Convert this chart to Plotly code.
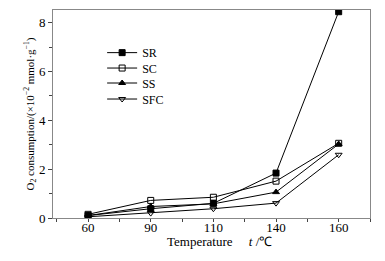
import plotly.graph_objects as go

temps = ["60", "90", "110", "140", "160"]
SR = [0.10, 0.38, 0.60, 1.84, 8.45]
SC = [0.15, 0.72, 0.85, 1.51, 3.06]
SS = [0.10, 0.47, 0.58, 1.06, 3.03]
SFC = [0.05, 0.20, 0.38, 0.61, 2.59]

series = [
    ("SR", SR, "square", "black"),
    ("SC", SC, "square-open", "black"),
    ("SS", SS, "triangle-up", "black"),
    ("SFC", SFC, "triangle-down-open", "black"),
]

font = "Liberation Serif, Times New Roman, serif"
xs = list(range(len(temps)))
fig = go.Figure()
legend_ys = [0.795, 0.721, 0.649, 0.572]
layout_legends = {}
for i, (name, vals, sym, col) in enumerate(series):
    lg = "legend" if i == 0 else f"legend{i+1}"
    fig.add_trace(go.Scatter(
        x=xs, y=vals, name=name, mode="lines+markers",
        line=dict(color="black", width=1),
        marker=dict(symbol=sym, size=6, color=col, line=dict(color="black", width=1)),
        legend=lg,
    ))
    layout_legends[lg] = dict(x=0.155, y=legend_ys[i], xanchor="left", yanchor="middle",
                              bgcolor="rgba(0,0,0,0)", font=dict(size=12, family=font),
                              itemwidth=30)

fig.update_layout(
    width=385, height=261,
    margin=dict(l=53, r=15, t=10, b=43),
    paper_bgcolor="white", plot_bgcolor="white",
    font=dict(family=font, size=12, color="black"),
    showlegend=True,
    **layout_legends,
    annotations=[dict(
        text="Temperature&nbsp;&nbsp;&nbsp;&nbsp;&nbsp;<i>t</i> /℃",
        xref="paper", yref="paper", x=0.524, y=0, xanchor="center", yanchor="middle",
        yshift=-23, showarrow=False, font=dict(size=13, family=font),
    )],
)
fig.update_xaxes(
    range=[-0.56, 4.5], tickvals=xs, ticktext=temps,
    showline=True, linecolor="#888", linewidth=1, mirror=True,
    ticks="outside", ticklen=3, tickcolor="#444", showgrid=False, zeroline=False,
    minor=dict(tick0=0, dtick=0.5, ticks="outside", ticklen=3, tickcolor="#444"),
    ticklabelstandoff=-6,
    tickfont=dict(size=13),
)
fig.update_yaxes(
    range=[0, 8.52], tickvals=[0, 2, 4, 6, 8],
    showline=True, linecolor="#888", linewidth=1, mirror=True,
    ticks="outside", ticklen=4, tickcolor="#444", showgrid=False, zeroline=False,
    minor=dict(tickvals=[1, 3, 5, 7], ticks="outside", ticklen=3, tickcolor="#444"),
    title=dict(text="O<sub>2</sub> consumption/(×10<sup>−2</sup> mmol·g<sup>−1</sup>)", font=dict(size=11), standoff=2),
    tickfont=dict(size=13),
)
fig.write_html("out.html", config={"displayModeBar": False},
               post_script="document.body.style.margin='0';")
